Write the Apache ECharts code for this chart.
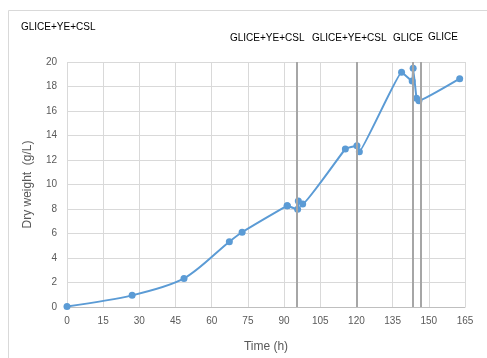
<!DOCTYPE html>
<html>
<head>
<meta charset="utf-8">
<script src="https://cdn.jsdelivr.net/npm/echarts@6/dist/echarts.min.js"></script>
<style>
  html, body { margin: 0; padding: 0; background: #fff; }
  #chart { width: 487px; height: 358px; }
</style>
</head>
<body>
<div id="chart"></div>
<script>
// Sampling times (h) and measured dry weight (g/L)
const timeH = [0, 27, 48.5, 67.3, 72.6, 91.3, 95.6, 95.9, 97.7, 115.4, 120.2, 121.2, 138.7, 143.1, 143.5, 144.9, 145.9, 162.8];
const dryWeight = [0.05, 0.95, 2.33, 5.33, 6.1, 8.27, 7.97, 8.65, 8.4, 12.9, 13.17, 12.68, 19.16, 18.45, 19.5, 17.04, 16.84, 18.64];

// Feeding events: time (h) of each addition
const feedTimes = [95.3, 120, 143.3, 146.8];
const feedLabels = ['GLICE+YE+CSL', 'GLICE+YE+CSL', 'GLICE', 'GLICE'];
const initialMedium = 'GLICE+YE+CSL';

// Batch phase (before first feed) is drawn with a softer curve than the fed-batch phase
const batchEnd = 5;

const chart = echarts.init(document.getElementById('chart'));
const labelFont = 'Liberation Sans, Arial, sans-serif';
const noteFont = '10px ' + labelFont;
const points = timeH.map((t, i) => [t, dryWeight[i]]);

const lineSeries = (data, smooth) => ({
  type: 'line',
  data: data,
  smooth: smooth,
  symbol: 'circle',
  symbolSize: 7,
  lineStyle: { color: '#5b9bd5', width: 2 },
  itemStyle: { color: '#5b9bd5' },
  z: 3
});

const batch = lineSeries(points.slice(0, batchEnd + 1), 0.3);
const fed = lineSeries(points.slice(batchEnd), 0.08);
fed.markLine = {
  silent: true,
  symbol: 'none',
  label: { show: false },
  lineStyle: { color: '#a6a6a6', width: 2, type: 'solid' },
  data: feedTimes.map(t => ({ xAxis: t }))
};

const option = {
  animation: false,
  grid: { left: 67, right: 22, top: 62, bottom: 51, outerBoundsMode: 'none' },
  xAxis: {
    type: 'value',
    min: 0, max: 165, interval: 15,
    name: 'Time (h)',
    nameLocation: 'middle',
    nameGap: 34,
    nameTextStyle: { color: '#595959', fontSize: 12, fontFamily: labelFont },
    axisLine: { show: true, lineStyle: { color: '#bfbfbf', width: 1 } },
    axisTick: { show: false },
    axisLabel: { color: '#595959', fontSize: 10, fontFamily: labelFont, margin: 9 },
    splitLine: { show: true, lineStyle: { color: '#d9d9d9', width: 1 } }
  },
  yAxis: {
    type: 'value',
    min: 0, max: 20, interval: 2,
    name: 'Dry weight  (g/L)',
    nameLocation: 'middle',
    nameGap: 33,
    nameTextStyle: { color: '#595959', fontSize: 12, fontFamily: labelFont },
    axisLine: { show: false },
    axisTick: { show: false },
    axisLabel: { color: '#595959', fontSize: 10, fontFamily: labelFont, margin: 10 },
    splitLine: { show: true, lineStyle: { color: '#d9d9d9', width: 1 } }
  },
  series: [batch, fed],
  graphic: [
    {
      type: 'rect',
      shape: { x: 8.5, y: 10.5, width: 490, height: 360 },
      style: { fill: 'none', stroke: '#d9d9d9', lineWidth: 1 },
      silent: true
    },
    {
      type: 'text', left: 21, top: 22,
      style: { text: initialMedium, fill: '#000', font: noteFont }
    },
    {
      type: 'text', left: 230, top: 33,
      style: { text: feedLabels[0], fill: '#000', font: noteFont }
    },
    {
      type: 'text', left: 312, top: 33,
      style: { text: feedLabels[1], fill: '#000', font: noteFont }
    },
    {
      type: 'text', left: 393, top: 33,
      style: { text: feedLabels[2], fill: '#000', font: noteFont }
    },
    {
      type: 'text', left: 428, top: 32,
      style: { text: feedLabels[3], fill: '#000', font: noteFont }
    }
  ]
};

chart.setOption(option);
</script>
</body>
</html>
